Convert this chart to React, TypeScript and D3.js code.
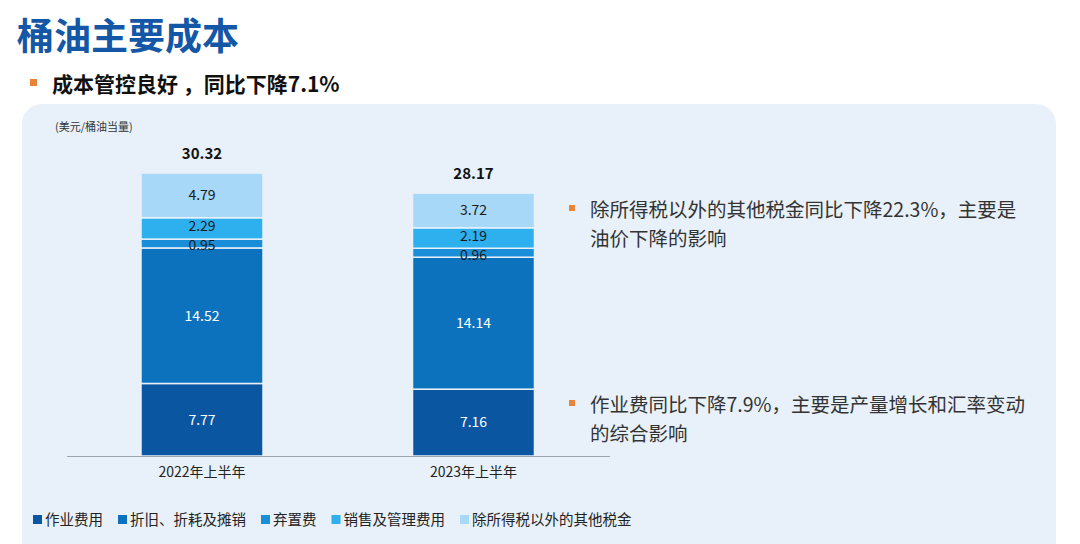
import React, { useRef, useEffect } from 'react';
import { select, scaleBand, scaleLinear, stack } from 'd3';

// categories and series
const periods = ['2022年上半年', '2023年上半年'];
const seriesNames = ['作业费用', '折旧、折耗及摊销', '弃置费', '销售及管理费用', '除所得税以外的其他税金'];
const opCost = [7.77, 7.16];
const depreciation = [14.52, 14.14];
const disposal = [0.95, 0.96];
const salesAdmin = [2.29, 2.19];
const otherTaxes = [4.79, 3.72];
const totals = [30.32, 28.17];
const seriesColors = ['#0a56a0', '#0c72be', '#1a8ed8', '#2eb0ee', '#a7d8f7'];
const labelColors = ['#ffffff', '#ffffff', '#1a1a1a', '#1a1a1a', '#1a1a1a'];

const notes = [
  ['除所得税以外的其他税金同比下降22.3%，主要是', '油价下降的影响'],
  ['作业费同比下降7.9%，主要是产量增长和汇率变动', '的综合影响'],
];

const FONT = '"Noto Sans CJK SC", "Noto Sans", sans-serif';

const App = () => {
  const svgRef = useRef(null);

  useEffect(() => {
    const svg = select(svgRef.current);
    svg.selectAll('*').remove();

    const rows = periods.map((p, i) => ({
      period: p,
      s0: opCost[i],
      s1: depreciation[i],
      s2: disposal[i],
      s3: salesAdmin[i],
      s4: otherTaxes[i],
    }));
    const keys = ['s0', 's1', 's2', 's3', 's4'];
    // @ts-ignore
    const layers = stack().keys(keys)(rows);

    const xScale = scaleBand()
      .domain(periods)
      .range([66.25, 609.25])
      .paddingInner(0.5507)
      .paddingOuter(0.5507 / 2);

    const yScale = scaleLinear().domain([0, 30]).range([456, 176]);

    // panel
    svg
      .append('rect')
      .attr('x', 22)
      .attr('y', 104)
      .attr('width', 1034)
      .attr('height', 480)
      .attr('rx', 20)
      .attr('fill', '#e8f1f9');

    // title
    svg
      .append('text')
      .attr('x', 17)
      .attr('y', 50)
      .attr('font-size', 37)
      .attr('font-weight', 'bold')
      .attr('fill', '#1557a7')
      .attr('font-family', FONT)
      .text('桶油主要成本');

    svg.append('rect').attr('x', 30).attr('y', 79).attr('width', 7).attr('height', 7).attr('fill', '#e8833a');
    svg
      .append('text')
      .attr('x', 52)
      .attr('y', 92)
      .attr('font-size', 21)
      .attr('font-weight', 'bold')
      .attr('fill', '#111')
      .attr('font-family', FONT)
      .text('成本管控良好 ，同比下降7.1%');

    svg
      .append('text')
      .attr('x', 55)
      .attr('y', 131)
      .attr('font-size', 11)
      .attr('fill', '#333')
      .attr('font-family', FONT)
      .text('(美元/桶油当量)');

    // bars
    const g = svg.append('g');
    const nudge = [0, 0, 2, -2, 0];
    layers.forEach((layer, li) => {
      g.selectAll(`.seg-${li}`)
        .data(layer)
        .join('rect')
        .attr('class', `seg-${li}`)
        // @ts-ignore
        .attr('x', (d) => xScale(d.data.period))
        .attr('width', xScale.bandwidth())
        .attr('y', (d) => yScale(d[1]))
        .attr('height', (d) => yScale(d[0]) - yScale(d[1]))
        .attr('fill', seriesColors[li])
        .attr('stroke', '#e8f1f9')
        .attr('stroke-width', 1.5);

      g.selectAll(`.lab-${li}`)
        .data(layer)
        .join('text')
        .attr('class', `lab-${li}`)
        // @ts-ignore
        .attr('x', (d) => xScale(d.data.period) + xScale.bandwidth() / 2)
        .attr('y', (d) => (yScale(d[0]) + yScale(d[1])) / 2 + nudge[li])
        .attr('dy', '0.35em')
        .attr('text-anchor', 'middle')
        .attr('font-size', 14)
        .attr('fill', labelColors[li])
        .attr('font-family', FONT)
        .text((d) => (d[1] - d[0]).toFixed(2));
    });

    // totals
    g.selectAll('.total')
      .data(periods)
      .join('text')
      .attr('class', 'total')
      // @ts-ignore
      .attr('x', (p) => xScale(p) + xScale.bandwidth() / 2)
      .attr('y', (p, i) => yScale(totals[i]) - 14)
      .attr('text-anchor', 'middle')
      .attr('font-size', 15)
      .attr('font-weight', 'bold')
      .attr('fill', '#111')
      .attr('font-family', FONT)
      .text((p, i) => totals[i].toFixed(2));

    // axis
    svg
      .append('line')
      .attr('x1', 67)
      .attr('x2', 610)
      .attr('y1', yScale(0) + 0.5)
      .attr('y2', yScale(0) + 0.5)
      .attr('stroke', '#9aa5b1')
      .attr('stroke-width', 1);

    svg
      .selectAll('.xlab')
      .data(periods)
      .join('text')
      .attr('class', 'xlab')
      // @ts-ignore
      .attr('x', (p) => xScale(p) + xScale.bandwidth() / 2)
      .attr('y', 477)
      .attr('text-anchor', 'middle')
      .attr('font-size', 14)
      .attr('fill', '#222')
      .attr('font-family', FONT)
      .text((p) => p);

    // notes
    const noteY = [217, 412];
    notes.forEach((lines, ni) => {
      svg
        .append('rect')
        .attr('x', 569)
        .attr('y', noteY[ni] - 12)
        .attr('width', 6)
        .attr('height', 6)
        .attr('fill', '#e8833a');
      lines.forEach((t, li) => {
        svg
          .append('text')
          .attr('x', 590)
          .attr('y', noteY[ni] + li * 29)
          .attr('font-size', 19.5)
          .attr('fill', '#333')
          .attr('font-family', FONT)
          .text(t);
      });
    });

    // legend
    let lx = 33;
    seriesNames.forEach((name, i) => {
      svg
        .append('rect')
        .attr('x', lx)
        .attr('y', 515)
        .attr('width', 9)
        .attr('height', 9)
        .attr('fill', seriesColors[i]);
      const t = svg
        .append('text')
        .attr('x', lx + 12)
        .attr('y', 525)
        .attr('font-size', 14.5)
        .attr('fill', '#222')
        .attr('font-family', FONT)
        .text(name);
      // @ts-ignore
      const w = t.node().getComputedTextLength();
      lx += 12 + w + 15;
    });
  }, []);

  return (
    <svg
      ref={svgRef}
      width={1080}
      height={544}
      style={{ position: 'absolute', left: 0, top: 0, background: '#ffffff' }}
    />
  );
};

export default App;
